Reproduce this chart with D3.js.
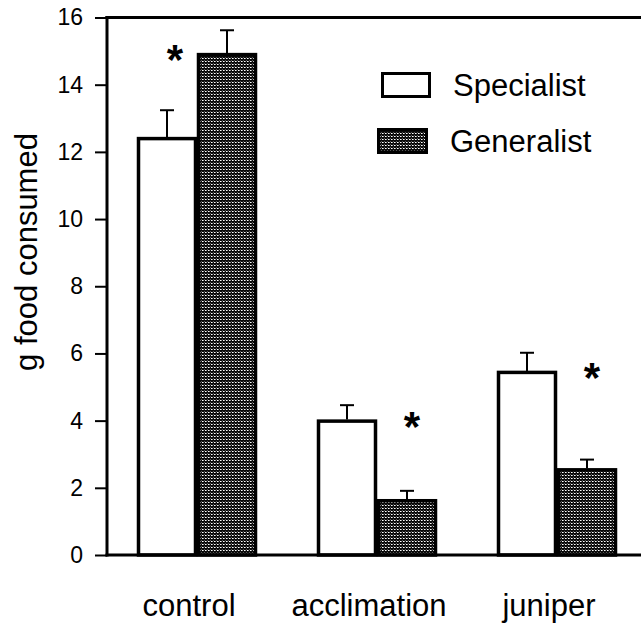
<!DOCTYPE html>
<html>
<head>
<meta charset="utf-8">
<script src="https://cdn.jsdelivr.net/npm/d3@7"></script>
<style>
  body { margin: 0; background: #fff; }
  svg { display: block; font-family: "Liberation Sans", Arial, Helvetica, sans-serif; }
</style>
</head>
<body>
<svg id="chart" width="641" height="624"></svg>
<script>
// data
const categories = ['control', 'acclimation', 'juniper'];
const groups = ['Specialist', 'Generalist'];
const specialistMeans = [12.44, 4.03, 5.48];
const specialistErrors = [0.80, 0.43, 0.54];
const generalistMeans = [14.94, 1.66, 2.58];
const generalistErrors = [0.68, 0.25, 0.26];
const yTicks = [0, 2, 4, 6, 8, 10, 12, 14, 16];

const svg = d3.select('#chart');
const width = 641, height = 624;
const margin = { left: 107, top: 17.5, bottom: 555 };

// stipple fill for the generalist bars
const defs = svg.append('defs');
const pattern = defs.append('pattern')
	.attr('id', 'stipple')
	.attr('patternUnits', 'userSpaceOnUse')
	.attr('width', 3)
	.attr('height', 3);
pattern.append('rect').attr('width', 3).attr('height', 3).attr('fill', '#0a0a0a');
pattern.append('rect').attr('x', 1).attr('y', 1).attr('width', 1).attr('height', 1).attr('fill', '#fff');
pattern.append('rect').attr('x', 2).attr('y', 1).attr('width', 1).attr('height', 1).attr('fill', '#999');
pattern.append('rect').attr('x', 0).attr('y', 0).attr('width', 1).attr('height', 1).attr('fill', '#555');

const xScale = d3.scaleBand()
	.domain(categories)
	.range([margin.left, 647])
	.paddingInner(1 / 3)
	.paddingOuter(1 / 6);
const xInner = d3.scaleBand()
	.domain(groups)
	.range([0, xScale.bandwidth()]);
const yScale = d3.scaleLinear()
	.domain([0, 16])
	.range([margin.bottom, margin.top]);

let rows = [];
for (let i = 0; i < categories.length; i++) {
	rows.push({ category: categories[i], group: 'Specialist', mean: specialistMeans[i], error: specialistErrors[i] });
	rows.push({ category: categories[i], group: 'Generalist', mean: generalistMeans[i], error: generalistErrors[i] });
}

// error bars (drawn first so bar outline covers the stem)
const errG = svg.append('g').attr('stroke', '#000').attr('stroke-width', 2);
rows.forEach(function(d) {
	let cx = xScale(d.category) + xInner(d.group) + xInner.bandwidth() / 2;
	errG.append('line')
		.attr('x1', cx).attr('x2', cx)
		.attr('y1', yScale(d.mean)).attr('y2', yScale(d.mean + d.error));
	errG.append('line')
		.attr('x1', cx - 7).attr('x2', cx + 7)
		.attr('y1', yScale(d.mean + d.error)).attr('y2', yScale(d.mean + d.error));
});

// bars
svg.append('g')
	.selectAll('rect')
	.data(rows)
	.join('rect')
	.attr('x', d => xScale(d.category) + xInner(d.group) + 1.5)
	.attr('y', d => yScale(d.mean) + 1.5)
	.attr('width', xInner.bandwidth() - 3)
	.attr('height', d => yScale(0) - yScale(d.mean) - 1.5)
	.attr('fill', d => d.group == 'Specialist' ? '#fff' : 'url(#stipple)')
	.attr('stroke', '#000')
	.attr('stroke-width', 3.5);

// significance stars: left of the tall generalist bar in control,
// above the short generalist bar elsewhere, level with the taller bar
svg.append('g')
	.selectAll('text')
	.data(categories)
	.join('text')
	.attr('x', function(c) {
		let genCenter = xScale(c) + xInner('Generalist') + xInner.bandwidth() / 2;
		return c == 'control' ? genCenter - 52 : genCenter + 5;
	})
	.attr('y', function(c, i) {
		return yScale(Math.max(specialistMeans[i], generalistMeans[i])) + 21;
	})
	.attr('text-anchor', 'middle')
	.attr('font-size', 42)
	.attr('font-weight', 'bold')
	.text('*');

// y axis
const yAxis = d3.axisLeft(yScale).tickValues(yTicks).tickSize(12).tickPadding(12);
const yG = svg.append('g')
	.attr('transform', 'translate(' + margin.left + ',0)')
	.call(yAxis);
yG.select('.domain').remove();
yG.selectAll('.tick line').attr('stroke', '#000').attr('stroke-width', 2);
yG.selectAll('.tick text')
	.attr('font-size', 23)
	.attr('font-family', '"Liberation Sans", Arial, sans-serif')
	.attr('fill', '#000');

// frame: left axis, top and bottom lines run off the right edge
svg.append('line')
	.attr('x1', margin.left).attr('x2', margin.left)
	.attr('y1', margin.top - 1.5).attr('y2', margin.bottom + 1.5)
	.attr('stroke', '#000').attr('stroke-width', 3);
svg.append('line')
	.attr('x1', margin.left - 1.5).attr('x2', width)
	.attr('y1', margin.top).attr('y2', margin.top)
	.attr('stroke', '#000').attr('stroke-width', 3);
svg.append('line')
	.attr('x1', margin.left - 1.5).attr('x2', width)
	.attr('y1', margin.bottom).attr('y2', margin.bottom)
	.attr('stroke', '#000').attr('stroke-width', 3);

// category labels
svg.append('g')
	.selectAll('text')
	.data(categories)
	.join('text')
	.attr('x', d => xScale(d) + xScale.bandwidth() / 2 - 8)
	.attr('y', 616)
	.attr('text-anchor', 'middle')
	.attr('font-size', 31)
	.text(d => d);

// y title
svg.append('text')
	.attr('transform', 'translate(37,252) rotate(-90)')
	.attr('text-anchor', 'middle')
	.attr('font-size', 31)
	.text('g food consumed');

// legend
const legend = svg.append('g');
const legendBoxes = [
	{ x: 382.5, y: 73.5, w: 47, h: 23, fill: '#fff' },
	{ x: 378.5, y: 129.5, w: 48, h: 23, fill: 'url(#stipple)' }
];
groups.forEach(function(g, i) {
	let b = legendBoxes[i];
	legend.append('rect')
		.attr('x', b.x).attr('y', b.y).attr('width', b.w).attr('height', b.h)
		.attr('fill', b.fill).attr('stroke', '#000').attr('stroke-width', 3);
	legend.append('text')
		.attr('x', i == 0 ? 453 : 450)
		.attr('y', i == 0 ? 96 : 152)
		.attr('font-size', 31)
		.text(g);
});
</script>
</body>
</html>
